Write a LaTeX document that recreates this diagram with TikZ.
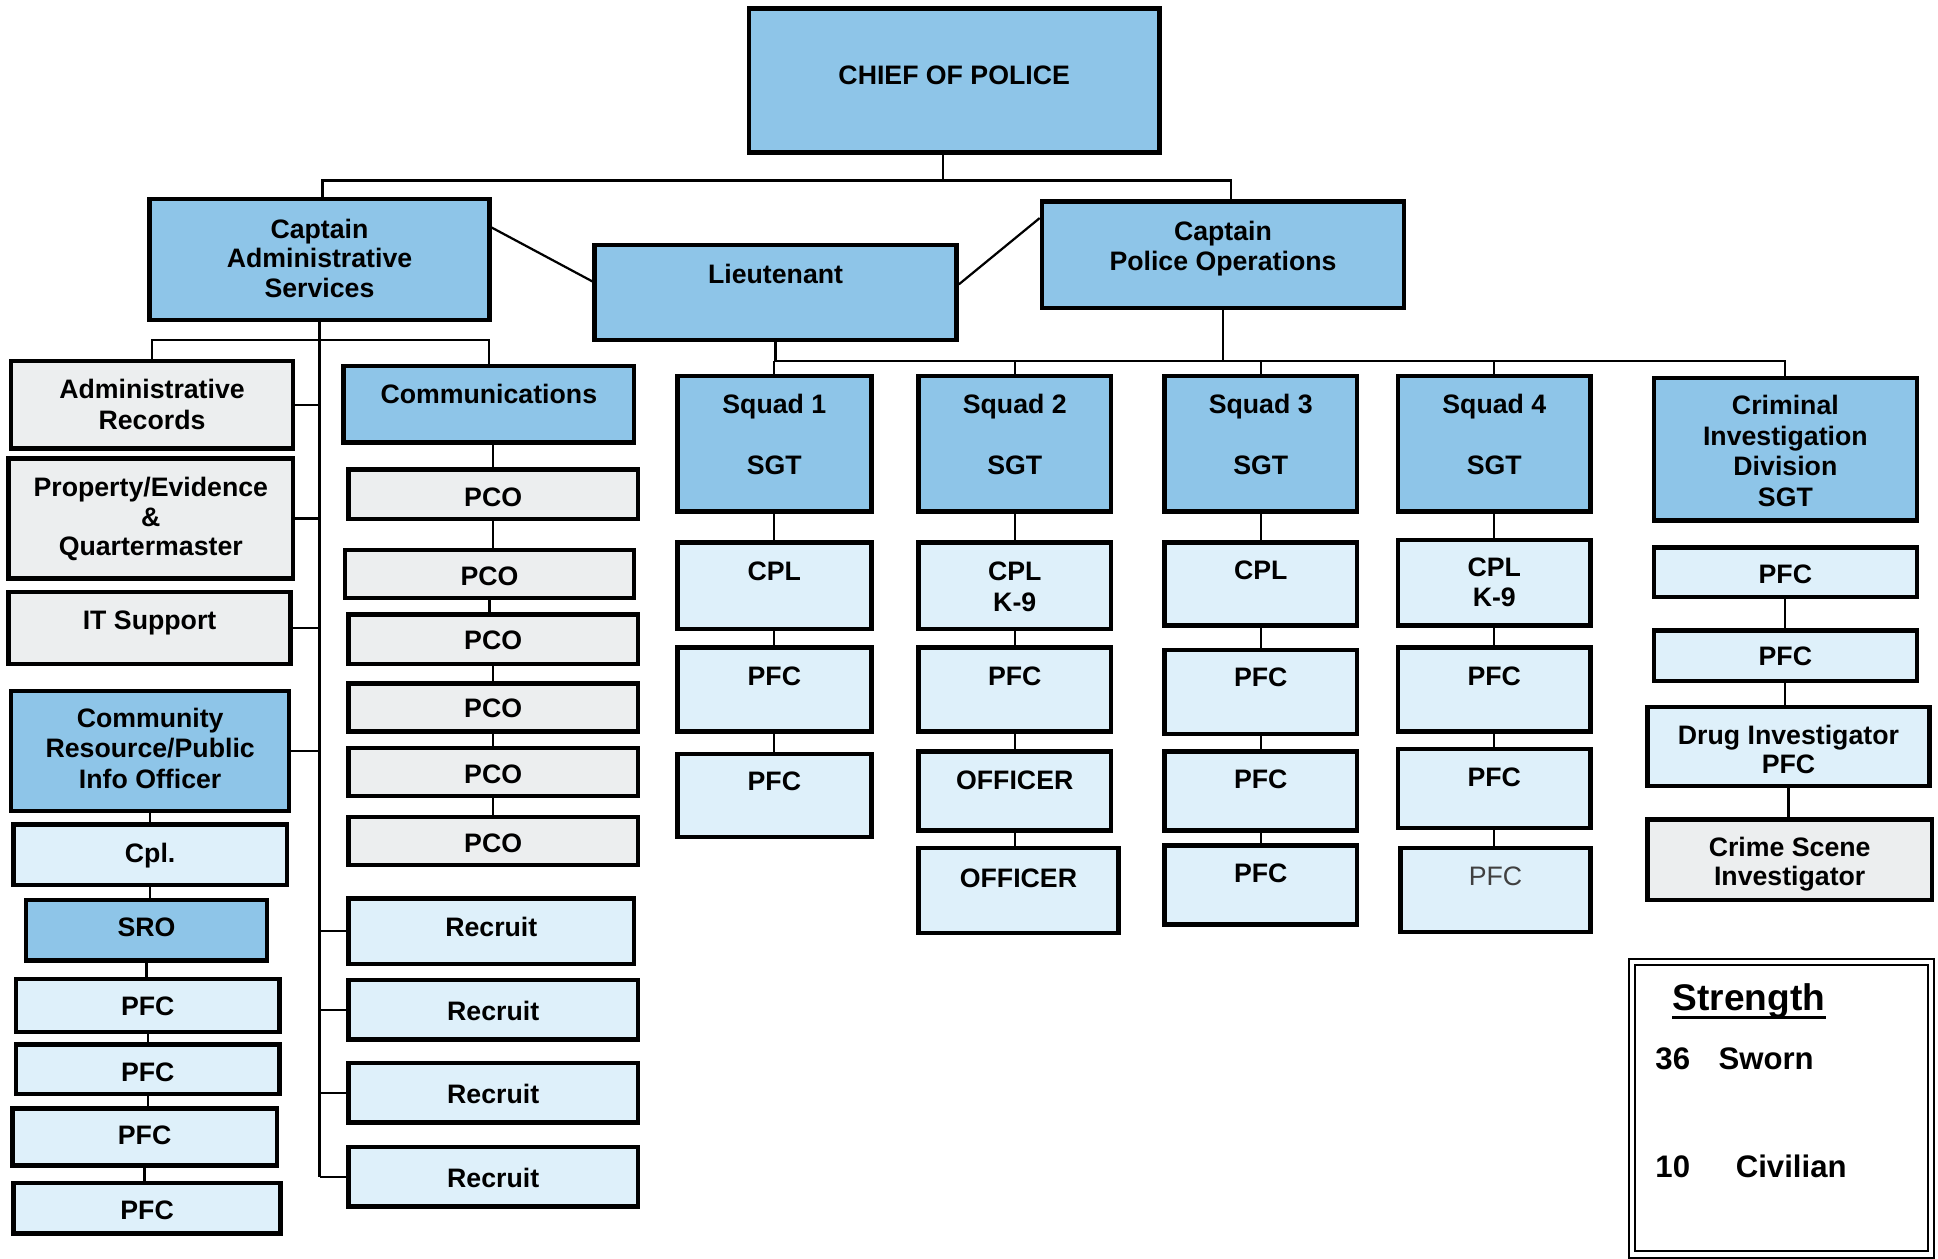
\documentclass[tikz,border=0pt]{standalone}
\usepackage{fontspec}
\setmainfont{Liberation Sans}
\usetikzlibrary{fit,calc}
\definecolor{dkblue}{RGB}{142,197,232}
\definecolor{ltblue}{RGB}{222,240,250}
\definecolor{greyf}{RGB}{236,238,239}
\newcommand\bx[6]{\node[#2,fit={(#3,#4) (#5,#6)}] (#1) {};}
\newcommand\tx[4]{\node[txt] (#1) at (#2 |- 0,#3) {#4};}
\newcommand\vc[2]{\draw[conn] (#1.south) -- (#1.south |- #2.north);}
\begin{document}
\begin{tikzpicture}[x=0.5pt,y=-0.5pt,
  box/.style={draw=black, line width=1.8pt, inner sep=0pt, rectangle},
  dk/.style={box, fill=dkblue},
  lb/.style={box, fill=ltblue},
  gr/.style={box, fill=greyf},
  conn/.style={line width=0.9pt, draw=black},
  txt/.style={inner sep=0pt, font=\fontsize{10.8}{12}\bfseries\selectfont, text height=7.7pt, text depth=0pt},
  bigtxt/.style={inner sep=0pt, font=\fontsize{12.6}{14}\bfseries\selectfont, text height=9pt, text depth=0pt}]
\useasboundingbox (0,0) rectangle (1568,1018);
% ---------- boxes ----------
\bx{chief}{dk,line width=2pt}{606}{7}{938}{123}
\bx{capA}{dk}{121}{161}{396}{259}
\bx{capO}{dk}{843}{163}{1136}{249}
\bx{lt}{dk}{481}{198}{774}{275}
\bx{adrec}{gr}{9}{292}{237}{363}
\bx{prop}{gr}{7}{371}{237}{468}
\bx{it}{gr}{7}{479}{235}{537}
\bx{crp}{dk}{9}{559}{234}{656}
\bx{cpl}{lb}{11}{667}{232}{716}
\bx{sro}{dk}{21}{728}{216}{777}
\bx{cpa}{lb}{13}{792}{226}{835}
\bx{cpb}{lb}{13}{845}{226}{885}
\bx{cpc}{lb}{10}{897}{224}{943}
\bx{cpd}{lb}{11}{957}{227}{998}
\bx{comm}{dk}{278}{296}{513}{358}
\bx{pco1}{gr}{282}{380}{516}{420}
\bx{pco2}{gr}{279}{445}{513}{484}
\bx{pco3}{gr}{282}{497}{516}{537}
\bx{pco4}{gr}{282}{553}{516}{592}
\bx{pco5}{gr}{282}{605}{516}{644}
\bx{pco6}{gr}{282}{661}{516}{700}
\bx{rec1}{lb}{282}{727}{513}{780}
\bx{rec2}{lb}{282}{793}{516}{841}
\bx{rec3}{lb}{282}{860}{516}{908}
\bx{rec4}{lb}{282}{928}{516}{976}
\bx{sq1}{dk}{548}{304}{705}{414}
\bx{sq2}{dk}{743}{304}{899}{414}
\bx{sq3}{dk}{942}{304}{1098}{414}
\bx{sq4}{dk}{1131}{304}{1287}{414}
\bx{cid}{dk}{1338}{306}{1551}{421}
\bx{s1a}{lb}{548}{439}{705}{509}
\bx{s1b}{lb}{548}{524}{705}{592}
\bx{s1c}{lb}{548}{610}{705}{677}
\bx{s2a}{lb}{743}{439}{899}{509}
\bx{s2b}{lb}{743}{524}{899}{592}
\bx{s2c}{lb}{743}{608}{899}{672}
\bx{s2d}{lb}{743}{686}{905}{755}
\bx{s3a}{lb}{942}{439}{1098}{506}
\bx{s3b}{lb}{942}{526}{1098}{594}
\bx{s3c}{lb}{942}{608}{1098}{672}
\bx{s3d}{lb}{942}{684}{1098}{748}
\bx{s4a}{lb}{1131}{437}{1287}{506}
\bx{s4b}{lb}{1131}{524}{1287}{592}
\bx{s4c}{lb}{1131}{606}{1287}{670}
\bx{s4d}{lb}{1133}{686}{1287}{754}
\bx{c1}{lb}{1338}{443}{1551}{483}
\bx{c2}{lb}{1338}{510}{1551}{551}
\bx{c3}{lb}{1333}{572}{1561}{636}
\bx{c4}{gr}{1333}{663}{1563}{728}
\node[draw=black, double=white, double distance=1.8pt, line width=0.8pt, inner sep=0pt, fit={(1320.5,778.5) (1562.5,1015)}] (str) {};
% ---------- texts ----------
\tx{chiefT}{chief}{61}{CHIEF OF POLICE}
\tx{capA1}{capA}{185}{Captain}
\tx{capA2}{capA}{209}{Administrative}
\tx{capA3}{capA}{233}{Services}
\tx{capO1}{capO}{187}{Captain}
\tx{capO2}{capO}{211}{Police Operations}
\tx{ltT}{lt}{222}{Lieutenant}
\tx{adrec1}{adrec}{315}{Administrative}
\tx{adrec2}{adrec}{340}{Records}
\tx{prop1}{prop}{394}{Property/Evidence}
\tx{prop2}{prop}{418}{\&}
\tx{prop3}{prop}{442}{Quartermaster}
\tx{itT}{it}{502}{IT Support}
\tx{crp1}{crp}{581}{Community}
\tx{crp2}{crp}{605}{Resource/Public}
\tx{crp3}{crp}{630}{Info Officer}
\tx{cplT}{cpl}{690}{Cpl.}
\tx{sroT}{sro}{750}{SRO}
\tx{cpaT}{cpa}{814}{PFC}
\tx{cpbT}{cpb}{867}{PFC}
\tx{cpcT}{cpc}{918}{PFC}
\tx{cpdT}{cpd}{979}{PFC}
\tx{commT}{comm}{319}{Communications}
\tx{pco1T}{pco1}{402}{PCO}
\tx{pco2T}{pco2}{466}{PCO}
\tx{pco3T}{pco3}{518}{PCO}
\tx{pco4T}{pco4}{573}{PCO}
\tx{pco5T}{pco5}{626}{PCO}
\tx{pco6T}{pco6}{682}{PCO}
\tx{rec1T}{rec1}{750}{Recruit}
\tx{rec2T}{rec2}{818}{Recruit}
\tx{rec3T}{rec3}{885}{Recruit}
\tx{rec4T}{rec4}{953}{Recruit}
\tx{sq1a}{sq1}{327}{Squad 1}
\tx{sq1b}{sq1}{376}{SGT}
\tx{sq2a}{sq2}{327}{Squad 2}
\tx{sq2b}{sq2}{376}{SGT}
\tx{sq3a}{sq3}{327}{Squad 3}
\tx{sq3b}{sq3}{376}{SGT}
\tx{sq4a}{sq4}{327}{Squad 4}
\tx{sq4b}{sq4}{376}{SGT}
\tx{cid1}{cid}{328}{Criminal}
\tx{cid2}{cid}{353}{Investigation}
\tx{cid3}{cid}{377}{Division}
\tx{cid4}{cid}{402}{SGT}
\tx{s1aT}{s1a}{462}{CPL}
\tx{s1bT}{s1b}{547}{PFC}
\tx{s1cT}{s1c}{632}{PFC}
\tx{s2aT}{s2a}{462}{CPL}
\tx{s2aU}{s2a}{487}{K-9}
\tx{s2bT}{s2b}{547}{PFC}
\tx{s2cT}{s2c}{631}{OFFICER}
\tx{s2dT}{s2d}{710}{OFFICER}
\tx{s3aT}{s3a}{461}{CPL}
\tx{s3bT}{s3b}{548}{PFC}
\tx{s3cT}{s3c}{630}{PFC}
\tx{s3dT}{s3d}{706}{PFC}
\tx{s4aT}{s4a}{459}{CPL}
\tx{s4aU}{s4a}{483}{K-9}
\tx{s4bT}{s4b}{547}{PFC}
\tx{s4cT}{s4c}{629}{PFC}
\node[txt, font=\fontsize{10.8}{12}\mdseries\selectfont, text=black!75] (s4dT) at (s4d |- 0,709) {PFC};
\tx{c1T}{c1}{464}{PFC}
\tx{c2T}{c2}{531}{PFC}
\tx{c3T}{c3}{595}{Drug Investigator}
\tx{c3U}{c3}{618}{PFC}
\tx{c4T}{c4}{685}{Crime Scene}
\tx{c4U}{c4}{709}{Investigator}
\node[inner sep=0pt, font=\fontsize{15}{17}\bfseries\selectfont, text height=10.7pt, text depth=0pt] (strT) at (1415,807) {Strength};
\draw[line width=1.1pt] ($(strT.south west)+(0,5)$) -- ($(strT.south east)+(0,5)$);
\node[bigtxt, anchor=west] (n36) at (1339,856) {36};
\node[bigtxt, anchor=west] (sworn) at (1390,856) {Sworn};
\node[bigtxt, anchor=west] (n10) at (1339,944) {10};
\node[bigtxt, anchor=west] (civ) at (1404,944) {Civilian};
% ---------- connectors ----------
\coordinate (j1) at (763,146);
\coordinate (jl) at ($(capA.north)+(2.5,0)$);
\coordinate (jr) at ($(capO.north)+(6.5,0)$);
\draw[conn] (chief.south -| j1) -- (j1);
\draw[conn] (jl) |- (j1) -| (jr);
\draw[conn] ($(capA.north east)!0.245!(capA.south east)$) -- ($(lt.north west)!0.39!(lt.south west)$);
\draw[conn] ($(lt.north east)!0.42!(lt.south east)$) -- ($(capO.north west)!0.17!(capO.south west)$);
% admin branch
\coordinate (abot) at (capA.south |- 0,952);
\draw[conn] (capA.south) -- (abot);
\draw[conn] (adrec.north) -- (adrec.north |- 0,275) -| (comm.north);
\foreach \b in {adrec,prop,it,crp}{\draw[conn] (\b.east) -- (abot |- \b.east);}
\foreach \b in {rec1,rec2,rec3,rec4}{\draw[conn] (\b.west) -- (abot |- \b.west);}
\vc{crp}{cpl}
\vc{cpl}{sro}
\vc{sro}{cpa}
\vc{cpa}{cpb}
\vc{cpb}{cpc}
\vc{cpc}{cpd}
\draw[conn] (comm.south -| pco1.north) -- (pco1.north);
\vc{pco1}{pco2}
\vc{pco2}{pco3}
\draw[conn] (pco3.south) -- (pco4.north);
\vc{pco4}{pco5}
\vc{pco5}{pco6}
% operations branch
\coordinate (j2) at (capO.south |- 0,292);
\draw[conn] (capO.south) -- (j2);
\draw[conn] (lt.south) -- (lt.south |- 0,292) -- (cid.north |- 0,292) -- (cid.north);
\foreach \b in {sq1,sq2,sq3,sq4}{\draw[conn] (\b.north) -- (\b.north |- 0,292);}
\vc{sq1}{s1a}
\vc{s1a}{s1b}
\vc{s1b}{s1c}
\vc{sq2}{s2a}
\vc{s2a}{s2b}
\vc{s2b}{s2c}
\vc{s2c}{s2d}
\vc{sq3}{s3a}
\vc{s3a}{s3b}
\vc{s3b}{s3c}
\vc{s3c}{s3d}
\vc{sq4}{s4a}
\vc{s4a}{s4b}
\vc{s4b}{s4c}
\vc{s4c}{s4d}
\vc{c1}{c2}
\vc{c2}{c3}
\vc{c3}{c4}
\end{tikzpicture}
\end{document}
